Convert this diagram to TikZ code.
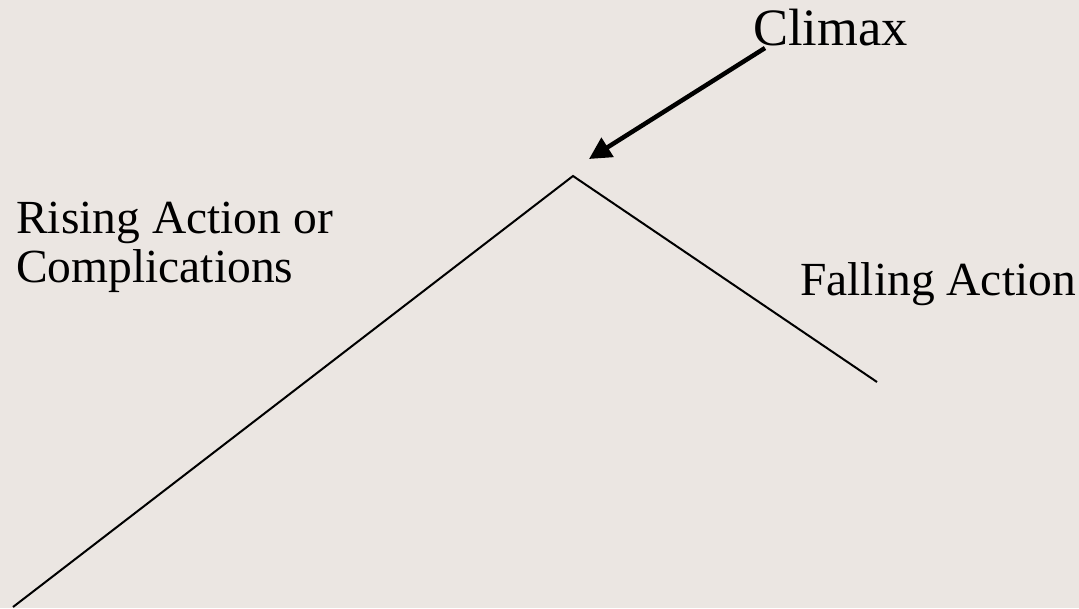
\documentclass[tikz,border=0pt]{standalone}
\usepackage{fontspec}
\setmainfont{Liberation Serif}
\usetikzlibrary{arrows.meta}
\definecolor{slide}{RGB}{235,230,226}

\begin{document}
\begin{tikzpicture}[x = 1pt, y = -1pt,
	label/.style = {anchor = base west, inner sep = 0pt, font = \fontsize{47.5}{49}\selectfont, align = left}]
	 \fill[slide] (0, 0) rectangle (1079, 608);
	 \useasboundingbox (0, 0) rectangle (1079, 608);
	 
	 \coordinate (start) at (13, 607);
	 \coordinate (peak) at (573, 176);
	 \coordinate (end) at (877, 382);
	 \coordinate (tip) at (589, 159);
	 
	 \node[label, font = \fontsize{52.5}{54}\selectfont] (climax) at (753, 45) {Climax};
	 \node[label] (rising) at (16, 282) {Rising Action or\\Complications};
	 \node[label] (falling) at (800, 295) {Falling Action};
	 
	 \draw[line width = 2pt] (start) -- (peak) -- (end);
	 
	 \draw[line width = 4.5pt, -{Triangle[length = 22pt, width = 22pt]}] (climax.base west) ++(12, 3) -- (tip);
	 \end{tikzpicture}
\end{document}
